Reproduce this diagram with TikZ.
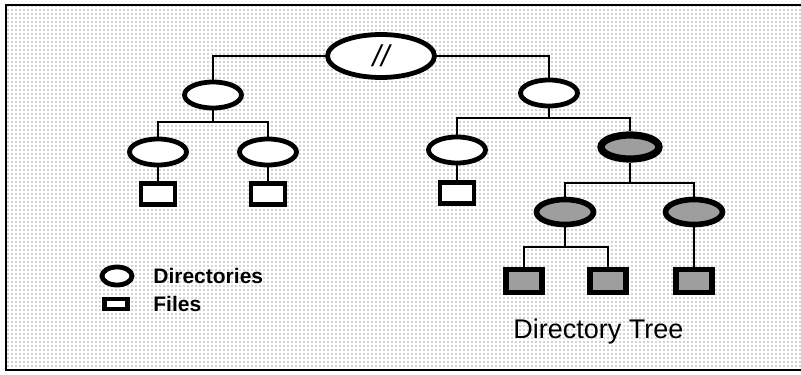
\documentclass[tikz,border=0pt]{standalone}
\usepackage{fontspec}
\setmainfont{Liberation Sans}
\usetikzlibrary{shapes.geometric,patterns.meta}

\begin{document}
\begin{tikzpicture}[x=0.5pt,y=-0.5pt,
  dir/.style={ellipse,draw,line width=2.4pt,fill=white,inner sep=0pt,
    minimum width=28.5pt,minimum height=13pt},
  file/.style={rectangle,draw,line width=2.4pt,fill=white,inner sep=0pt,
    minimum width=17pt,minimum height=10.5pt},
  hot/.style={fill=black!38,line width=2.8pt},
  link/.style={line width=1.1pt},
  lab/.style={anchor=base west,inner sep=0pt}]
  \useasboundingbox (0,0) rectangle (801,374);
  % ---------- frame and dotted ground ----------
  \fill[pattern={Dots[distance=2pt,radius=0.36pt]},pattern color=black!75]
    (6,5) rectangle (801,370);
  \draw[line width=1.1pt] (801,5) -- (6,5) -- (6,370) -- (801,370);
  % ---------- directories and files ----------
  \node[dir,minimum width=53.5pt,minimum height=21.5pt] (root) at (381,56)
    {\fontsize{15}{15}\selectfont\itshape //};
  \foreach \n/\x/\y in {dl/213/95,dr/549/93,dll/158/152,dlr/268/152,drl/457/150}
    \node[dir] (\n) at (\x,\y) {};
  \foreach \n/\x/\y in {fll/158/194,flr/268/194,frl/457/193}
    \node[file] (\n) at (\x,\y) {};
  \node[dir,hot,line width=3.6pt,minimum width=29pt,minimum height=12pt] (drr) at (630,147) {};
  \foreach \n/\x in {drrl/565,drrr/694}
    \node[dir,hot,minimum height=12.5pt] (\n) at (\x,212) {};
  \foreach \n/\x in {fa/524,fb/608,fc/694}
    \node[file,hot,line width=2.6pt,minimum width=18pt,minimum height=11.5pt] (\n) at (\x,281) {};
  % ---------- links ----------
  \coordinate (bl) at (213,122);
  \coordinate (br) at (549,118);
  \coordinate (brr) at (630,183);
  \coordinate (bf) at (565,247);
  \draw[link] (root.west) -| (dl.north);
  \draw[link] (root.east) -| (dr.north);
  \draw[link] (dl.south) -- (bl);
  \draw[link] (dll.north) |- (bl) -| (dlr.north);
  \draw[link] (dll) -- (fll);
  \draw[link] (dlr) -- (flr);
  \draw[link] (dr.south) -- (br);
  \draw[link] (drl.north) |- (br) -| (drr.north);
  \draw[link] (drl) -- (frl);
  \draw[link] (drr.south) -- (brr);
  \draw[link] (drrl.north) |- (brr) -| (drrr.north);
  \draw[link] (drrl.south) -- (bf);
  \draw[link] (fa.north) |- (bf) -| (fb.north);
  \draw[link] (drrr) -- (fc);
  % ---------- key and caption ----------
  \node[dir,minimum width=15pt,minimum height=9pt] (kdir) at (117,276) {};
  \node[file,minimum width=11.5pt,minimum height=5pt] (kfile) at (116,304) {};
  \node[lab,font=\bfseries\fontsize{10.5}{12}\selectfont] (kdirtxt) at (153,283) {Directories};
  \node[lab,font=\bfseries\fontsize{10.5}{12}\selectfont] (kfiletxt) at (153,311) {Files};
  \node[lab,font=\fontsize{13.5}{16}\selectfont] (title) at (513,338) {Directory Tree};
\end{tikzpicture}
\end{document}
